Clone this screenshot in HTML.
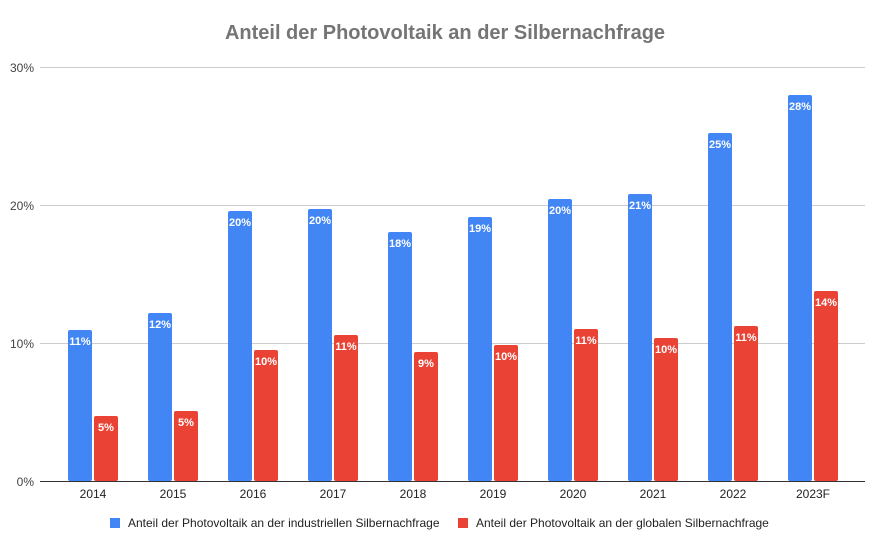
<!DOCTYPE html>
<html><head><style>
body{margin:0;background:#fff;}
svg{display:block;font-family:"Liberation Sans",Arial,sans-serif;}
</style></head><body>
<svg width="891" height="552" viewBox="0 0 891 552">
<rect width="891" height="552" fill="#fff"/>
<text x="445" y="39" text-anchor="middle" font-size="20" font-weight="bold" fill="#757575">Anteil der Photovoltaik an der Silbernachfrage</text>
<g stroke="#cccccc" stroke-width="1">
<line x1="40" x2="865" y1="67.5" y2="67.5"/>
<line x1="40" x2="865" y1="205.5" y2="205.5"/>
<line x1="40" x2="865" y1="343.5" y2="343.5"/>
</g>
<g font-size="12" fill="#444" text-anchor="end">
<text x="34" y="72">30%</text><text x="34" y="210">20%</text><text x="34" y="348">10%</text><text x="34" y="486">0%</text>
</g>
<g fill="#4285f4">
<rect x="68" y="330" width="24" height="151" rx="2"/>
<rect x="148" y="313" width="24" height="168" rx="2"/>
<rect x="228" y="211" width="24" height="270" rx="2"/>
<rect x="308" y="209" width="24" height="272" rx="2"/>
<rect x="388" y="232" width="24" height="249" rx="2"/>
<rect x="468" y="217" width="24" height="264" rx="2"/>
<rect x="548" y="199" width="24" height="282" rx="2"/>
<rect x="628" y="194" width="24" height="287" rx="2"/>
<rect x="708" y="133" width="24" height="348" rx="2"/>
<rect x="788" y="95" width="24" height="386" rx="2"/>
</g>
<g fill="#ea4335">
<rect x="94" y="416" width="24" height="65" rx="2"/>
<rect x="174" y="411" width="24" height="70" rx="2"/>
<rect x="254" y="350" width="24" height="131" rx="2"/>
<rect x="334" y="335" width="24" height="146" rx="2"/>
<rect x="414" y="352" width="24" height="129" rx="2"/>
<rect x="494" y="345" width="24" height="136" rx="2"/>
<rect x="574" y="329" width="24" height="152" rx="2"/>
<rect x="654" y="338" width="24" height="143" rx="2"/>
<rect x="734" y="326" width="24" height="155" rx="2"/>
<rect x="814" y="291" width="24" height="190" rx="2"/>
</g>
<line x1="40" x2="865" y1="481.5" y2="481.5" stroke="#333" stroke-width="1"/>
<g font-size="11" font-weight="bold" fill="#fff" text-anchor="middle">
<text x="80" y="345">11%</text><text x="160" y="328">12%</text><text x="240" y="226">20%</text><text x="320" y="224">20%</text><text x="400" y="247">18%</text><text x="480" y="232">19%</text><text x="560" y="214">20%</text><text x="640" y="209">21%</text><text x="720" y="148">25%</text><text x="800" y="110">28%</text>
<text x="106" y="431">5%</text><text x="186" y="426">5%</text><text x="266" y="365">10%</text><text x="346" y="350">11%</text><text x="426" y="367">9%</text><text x="506" y="360">10%</text><text x="586" y="344">11%</text><text x="666" y="353">10%</text><text x="746" y="341">11%</text><text x="826" y="306">14%</text>
</g>
<g font-size="12" fill="#222" text-anchor="middle">
<text x="93" y="498">2014</text><text x="173" y="498">2015</text><text x="253" y="498">2016</text><text x="333" y="498">2017</text><text x="413" y="498">2018</text><text x="493" y="498">2019</text><text x="573" y="498">2020</text><text x="653" y="498">2021</text><text x="733" y="498">2022</text><text x="813" y="498">2023F</text>
</g>
<rect x="110" y="518" width="10" height="10" fill="#4285f4"/>
<text x="128" y="527" font-size="12" fill="#222">Anteil der Photovoltaik an der industriellen Silbernachfrage</text>
<rect x="458" y="518" width="10" height="10" fill="#ea4335"/>
<text x="476" y="527" font-size="12" fill="#222">Anteil der Photovoltaik an der globalen Silbernachfrage</text>
</svg>
</body></html>
